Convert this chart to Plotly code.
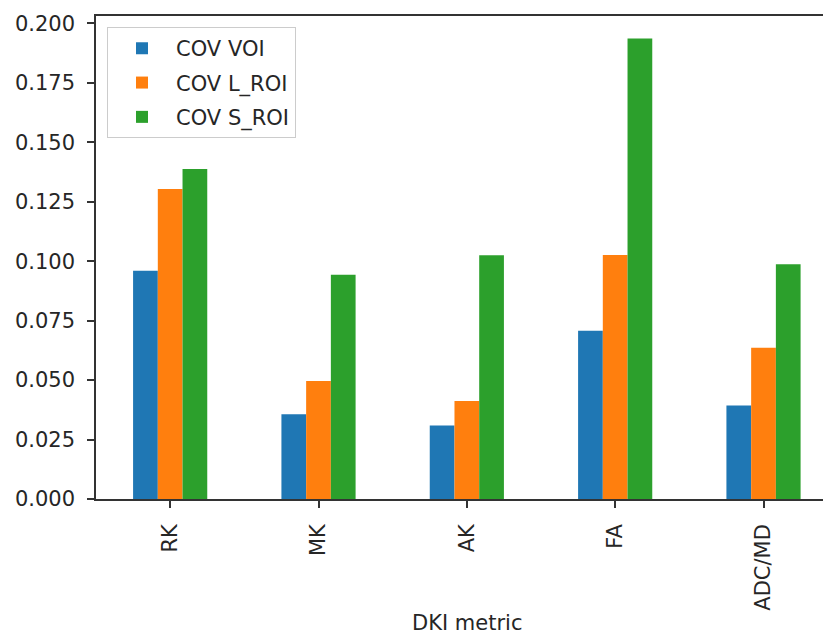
import plotly.graph_objects as go

categories = ["RK", "MK", "AK", "FA", "ADC/MD"]
cov_voi = [0.0960, 0.0356, 0.0309, 0.0708, 0.0393]
cov_l_roi = [0.1304, 0.0496, 0.0412, 0.1026, 0.0636]
cov_s_roi = [0.1388, 0.0943, 0.1025, 0.1936, 0.0987]
series_names = ["COV VOI", "COV L_ROI", "COV S_ROI"]
colors = ["#1f77b4", "#ff7f0e", "#2ca02c"]
y_ticks = [0.0, 0.025, 0.05, 0.075, 0.1, 0.125, 0.15, 0.175, 0.2]

FONT = "DejaVu Sans"
FS = 21
TXT = "#262626"
AX = "#333333"

fig = go.Figure()
for name, vals, col in zip(series_names, [cov_voi, cov_l_roi, cov_s_roi], colors):
    fig.add_trace(go.Bar(x=categories, y=vals, name=name, legendgroup=name,
                         marker=dict(color=col, line=dict(width=0))))

# page body has an 8px margin: figure placed at (8, 8)
fig.update_layout(
    width=823, height=629,
    margin=dict(l=88, r=0, t=8, b=138, autoexpand=False),
    paper_bgcolor="white", plot_bgcolor="white",
    barmode="group", bargap=0.5, bargroupgap=0,
    font=dict(family=FONT, size=FS, color=TXT),
    showlegend=True,
    legend=dict(x=0.015, y=0.977, xanchor="left", yanchor="top",
                bgcolor="white", bordercolor="#cccccc", borderwidth=1,
                itemwidth=58, tracegroupgap=4,
                font=dict(family=FONT, size=FS, color=TXT)),
)
fig.update_xaxes(
    range=[-0.5, 4.455], showgrid=False, showline=True, linecolor=AX, linewidth=1.5,
    mirror=True, ticks="outside", ticklen=7, tickcolor=AX, tickwidth=1.5,
    tickangle=-90, ticklabelstandoff=8, automargin=False,
    tickfont=dict(family=FONT, size=FS, color=TXT),
)
fig.update_yaxes(
    range=[0, 0.2031], showgrid=False, showline=True, linecolor=AX, linewidth=1.5,
    ticks="outside", ticklen=7, tickcolor=AX, tickwidth=1.5, zeroline=False,
    tickvals=y_ticks, tickformat=".3f", ticklabelstandoff=8, automargin=False,
    tickfont=dict(family=FONT, size=FS, color=TXT),
)
fig.add_annotation(text="DKI metric", xref="paper", yref="paper",
                   x=(466.8 - 96) / 735, y=0, xanchor="center", yanchor="middle",
                   yshift=-124, showarrow=False, font=dict(family=FONT, size=FS, color=TXT))

fig.write_html("out.html")
